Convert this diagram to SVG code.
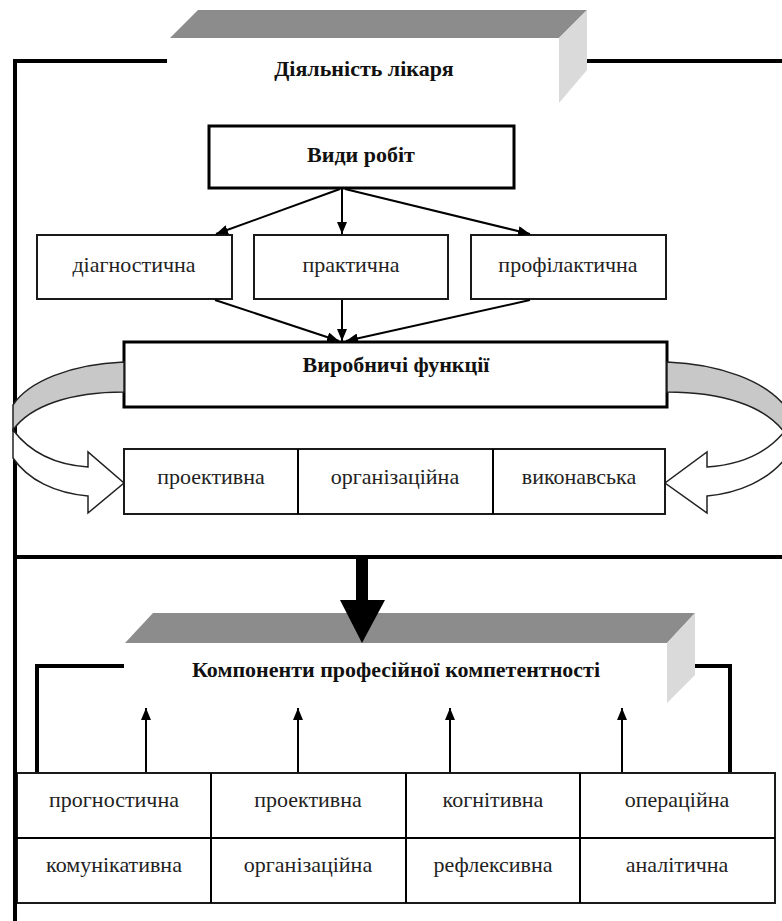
<svg xmlns="http://www.w3.org/2000/svg" width="782" height="921" viewBox="0 0 782 921">
<defs>
<marker id="ah" markerWidth="12" markerHeight="10" refX="12" refY="5" orient="auto" markerUnits="userSpaceOnUse"><path d="M0,0 L12,5 L0,10 Z" fill="#000"/></marker>
<style>
.frame{fill:none;stroke:#000;stroke-width:4}
.thick{fill:#fff;stroke:#000;stroke-width:3}
.thin{fill:#fff;stroke:#1a1a1a;stroke-width:2}
.con{fill:none;stroke:#000;stroke-width:2}
.top{fill:#8c8c8c}
.side{fill:#dadada}
.front{fill:#fff}
.band{fill:#c8c8c8;stroke:#222;stroke-width:1.5}
.warrow{fill:#fff;stroke:#222;stroke-width:1.5}
.b{font-family:"Liberation Serif","Times New Roman",serif;font-weight:bold;font-size:22px;fill:#111;text-anchor:middle}
.r{font-family:"Liberation Serif","Times New Roman",serif;font-size:22px;fill:#222;text-anchor:middle}
</style>
</defs>
<rect width="782" height="921" fill="#fff"/>

<g id="frame">
<path class="frame" d="M167,61 H15 V921"/>
<path class="frame" d="M578,61 H782"/>
<path class="frame" d="M15,557 H782"/>
<path class="frame" d="M124,666 H37 V773"/>
<path class="frame" d="M665,666 H730 V773"/>
</g>

<g id="node-diyalnist">
<polygon class="top" points="170,38 198,10 587,10 559,38"/>
<polygon class="side" points="559,38 587,10 587,70 559,103"/>
<rect class="front" x="170" y="38" width="389" height="65"/>
<text class="b" x="364" y="76">Діяльність лікаря</text>
</g>

<g id="node-vydy">
<rect class="thick" x="209" y="126" width="305" height="62"/>
<text class="b" x="361" y="162">Види робіт</text>
</g>

<g id="node-diagn">
<rect class="thin" x="37" y="235" width="195" height="64"/>
<text class="r" x="134" y="272">діагностична</text>
</g>
<g id="node-prakt">
<rect class="thin" x="254" y="235" width="194" height="64"/>
<text class="r" x="351" y="272">практична</text>
</g>
<g id="node-profil">
<rect class="thin" x="471" y="235" width="195" height="64"/>
<text class="r" x="568" y="272">профілактична</text>
</g>

<g id="node-vyrob">
<rect class="thick" x="124" y="342" width="543" height="65"/>
<text class="b" x="396" y="372">Виробничі функції</text>
</g>

<g id="curved-arrows">
<path class="band" d="M124,362 C70,364 28,382 13,405 L13,430 C30,406 70,392 124,392 Z"/>
<path class="warrow" d="M13,430 C32,455 58,465 88,467 L88,452 L124,483 L88,513 L88,496 C55,493 28,480 13,458 Z"/>
<path class="band" d="M667,362 C722,364 765,382 784,405 L784,432 C765,406 722,392 667,392 Z"/>
<path class="warrow" d="M784,432 C765,455 738,465 707,467 L707,452 L665,483 L707,513 L707,496 C740,493 767,480 784,460 Z"/>
</g>

<g id="node-funcs">
<rect class="thin" x="124" y="449" width="541" height="65"/>
<line class="con" x1="298" y1="449" x2="298" y2="514"/>
<line class="con" x1="493" y1="449" x2="493" y2="514"/>
<text class="r" x="211" y="484">проективна</text>
<text class="r" x="395" y="484">організаційна</text>
<text class="r" x="579" y="484">виконавська</text>
</g>

<g id="connectors">
<line class="con" x1="340" y1="189" x2="216" y2="234" marker-end="url(#ah)"/>
<line class="con" x1="342" y1="189" x2="342" y2="234" marker-end="url(#ah)"/>
<line class="con" x1="345" y1="189" x2="530" y2="234" marker-end="url(#ah)"/>
<line class="con" x1="215" y1="300" x2="339" y2="341" marker-end="url(#ah)"/>
<line class="con" x1="342" y1="300" x2="342" y2="341" marker-end="url(#ah)"/>
<line class="con" x1="530" y1="300" x2="346" y2="341" marker-end="url(#ah)"/>
<line class="con" x1="146" y1="773" x2="146" y2="708" marker-end="url(#ah)"/>
<line class="con" x1="298" y1="773" x2="298" y2="708" marker-end="url(#ah)"/>
<line class="con" x1="450" y1="773" x2="450" y2="708" marker-end="url(#ah)"/>
<line class="con" x1="622" y1="773" x2="622" y2="708" marker-end="url(#ah)"/>
</g>

<g id="node-komp">
<polygon class="top" points="125,643 153,613 695,613 667,643"/>
<polygon class="side" points="667,643 695,613 695,675 667,703"/>
<rect class="front" x="125" y="643" width="542" height="60"/>
<text class="b" x="396" y="677">Компоненти професійної компетентності</text>
</g>

<g id="big-arrow">
<rect x="356" y="557" width="12" height="45" fill="#000"/>
<polygon points="340,600 385,600 362,643" fill="#000"/>
</g>

<g id="node-table">
<rect class="thin" x="17" y="773" width="758" height="130"/>
<line class="con" x1="17" y1="838" x2="775" y2="838"/>
<line class="con" x1="211" y1="773" x2="211" y2="903"/>
<line class="con" x1="406" y1="773" x2="406" y2="903"/>
<line class="con" x1="580" y1="773" x2="580" y2="903"/>
<text class="r" x="114" y="807">прогностична</text>
<text class="r" x="308" y="807">проективна</text>
<text class="r" x="493" y="807">когнітивна</text>
<text class="r" x="677" y="807">операційна</text>
<text class="r" x="114" y="872">комунікативна</text>
<text class="r" x="308" y="872">організаційна</text>
<text class="r" x="493" y="872">рефлексивна</text>
<text class="r" x="677" y="872">аналітична</text>
</g>
<path class="frame" d="M15,557 V921"/>
</svg>
